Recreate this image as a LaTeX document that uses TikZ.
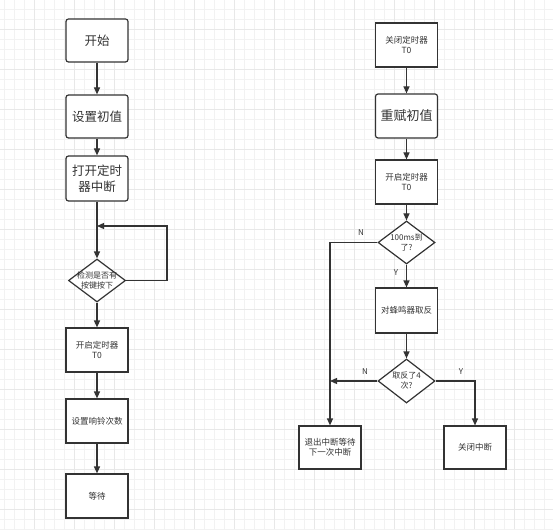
\documentclass[tikz,border=0pt]{standalone}
\usepackage{fontspec}
\setmainfont{Noto Sans CJK SC}
\usetikzlibrary{arrows.meta,shapes.geometric}
\definecolor{linec}{HTML}{333333}
\definecolor{textc}{HTML}{333333}
\definecolor{gridminor}{HTML}{F2F2F2}
\definecolor{gridmajor}{HTML}{E8E8E8}
\begin{document}
\begin{tikzpicture}[x=1pt,y=-1pt,
  rbox/.style={draw=linec, line width=1.2pt, rounded corners=2.5pt, fill=white,
    minimum width=62pt, minimum height=43pt, inner sep=0pt, text=textc,
    align=center, font=\fontsize{12.5}{16}\selectfont},
  sbox/.style={draw=linec, line width=1.2pt, fill=white,
    minimum width=62pt, minimum height=44pt, inner sep=0pt, text=textc,
    align=center, font=\fontsize{8.5}{10.5}\selectfont},
  dia/.style={diamond, draw=linec, line width=1.2pt, fill=white, inner sep=0pt,
    minimum width=57pt, minimum height=43pt},
  dtext/.style={text=textc, align=center, font=\fontsize{8}{10}\selectfont},
  yn/.style={text=textc, font=\fontsize{8}{9}\selectfont},
  arr/.style={draw=linec, line width=1.2pt, -{Triangle[length=7pt,width=6pt]}},
  ln/.style={draw=linec, line width=1.2pt}]
\useasboundingbox (0,0) rectangle (553,529);
\fill[white] (0,0) rectangle (553,529);
% grid
\foreach \x in {4,14,...,553} \draw[gridminor, line width=0.5pt] (\x,0) -- (\x,529);
\foreach \y in {9,19,...,529} \draw[gridminor, line width=0.5pt] (0,\y) -- (553,\y);
\foreach \x in {34,74,...,553} \draw[gridmajor, line width=0.6pt] (\x,0) -- (\x,529);
\foreach \y in {29,69,...,529} \draw[gridmajor, line width=0.6pt] (0,\y) -- (553,\y);

% left column
\node[rbox] (start) at (97,40.5) {开始};
\node[rbox] (init) at (97,116.5) {设置初值};
\node[rbox, minimum height=45pt] (tim) at (97,178.5) {打开定时\\器中断};
\node[dia] (chk) at (97,280.5) {};
\node[dtext] (chktext) at (chk.center) {检测是否有\\按键按下};
\node[sbox] (t0a) at (97,350) {开启定时器\\T0};
\node[sbox] (ring) at (97,421) {设置响铃次数};
\node[sbox] (wait) at (97,496) {等待};

\coordinate (loopin) at (97,226);
\draw[arr] (start) -- (init);
\draw[arr] (init) -- (tim);
\draw[arr] (tim) -- (chk);
\draw[arr] (chk.east) -| (167,226) -- (loopin);
\draw[arr] (chk) -- (t0a);
\draw[arr] (t0a) -- (ring);
\draw[arr] (ring) -- (wait);

% right column
\node[sbox] (close) at (406.5,45) {关闭定时器\\T0};
\node[rbox, minimum height=44pt, font=\fontsize{13}{16}\selectfont] (reinit) at (406.5,116) {重赋初值};
\node[sbox] (t0b) at (406.5,182) {开启定时器\\T0};
\node[dia] (d1) at (406.5,242.5) {};
\node[dtext] (d1text) at (d1.center) {100ms到\\了?};
\node[sbox, minimum height=45pt] (inv) at (406.5,310.5) {对蜂鸣器取反};
\node[dia, minimum height=44pt] (d2) at (406.5,381) {};
\node[dtext] (d2text) at (d2.center) {取反了4\\次?};
\node[sbox, minimum height=43pt] (exit) at (330,447.5) {退出中断等待\\下一次中断};
\node[sbox, minimum height=43pt] (off) at (475,447.5) {关闭中断};

\coordinate (join) at (exit.north |- d2.west);
\draw[arr] (close) -- (reinit);
\draw[arr] (reinit) -- (t0b);
\draw[arr] (t0b) -- (d1);
\draw[arr] (d1) -- (inv);
\draw[arr] (inv) -- (d2);
\draw[arr] (d1.west) -| (exit.north);
\draw[arr] (d2.west) -- (join);
\draw[arr] (d2.east) -| (off.north);
\node[yn] (n1) at (361,233) {N};
\node[yn] (y1) at (396,273) {Y};
\node[yn] (n2) at (365,372) {N};
\node[yn] (y2) at (461,372) {Y};
\end{tikzpicture}
\end{document}
